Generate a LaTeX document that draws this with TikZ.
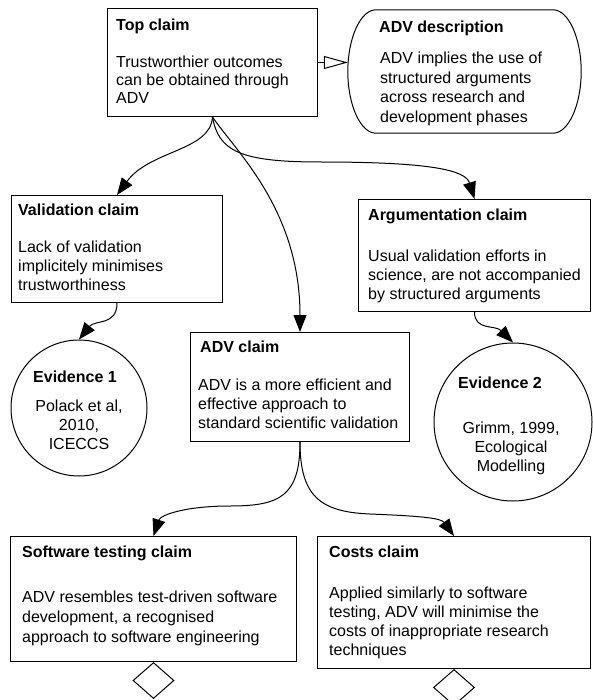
\documentclass[tikz,border=0pt]{standalone}
\usepackage{fontspec}
\setmainfont{Liberation Sans}
\usetikzlibrary{shapes.geometric,arrows.meta}

\begin{document}
\begin{tikzpicture}[
    x=1pt, y=-1pt,
    claim/.style={draw, rectangle, line width=1pt, anchor=north west, inner sep=0pt},
    evidence/.style={draw, circle, line width=1pt, inner sep=0pt},
    context/.style={rectangle, inner sep=0pt},
    undev/.style={draw, diamond, line width=1pt, inner sep=0pt, minimum width=41pt, minimum height=36pt, anchor=north},
    head/.style={anchor=north west, inner sep=0pt, font=\fontsize{16}{19}\selectfont\bfseries},
    body/.style={anchor=north west, inner sep=0pt, align=left, font=\fontsize{16}{19}\selectfont},
    link/.style={line width=1pt, -{Triangle[length=17pt, width=13pt]}},
    incontext/.style={line width=1pt, -{Triangle[open, length=24pt, width=13pt]}}
]

    \fill[white] (0,0) rectangle (592,700);
    \useasboundingbox (0,0) rectangle (592,700);

    % Top claim and its context
    \node[claim, minimum width=210pt, minimum height=108pt] (top) at (107,8) {};
    \node[head] (top-h) at (116,19) {Top claim};
    \node[body, font=\fontsize{16}{18}\selectfont] (top-b) at (116,56) {Trustworthier outcomes\\can be obtained through\\ADV};

    \node[context, minimum width=233pt, minimum height=123pt] (desc) at (464.5,71.5) {};
    \draw[line width=1pt] ([xshift=28pt]desc.north west) -- ([xshift=-28pt]desc.north east)
        .. controls +(15,0) and +(0,-34) .. (desc.east)
        .. controls +(0,34) and +(15,0) .. ([xshift=-28pt]desc.south east)
        -- ([xshift=28pt]desc.south west)
        .. controls +(-15,0) and +(0,34) .. (desc.west)
        .. controls +(0,-34) and +(-15,0) .. cycle;
    \node[head] (desc-h) at (379,21) {ADV description};
    \node[body, font=\fontsize{16}{19.5}\selectfont] (desc-b) at (380,52) {ADV implies the use of\\structured arguments\\across research and\\development phases};

    % Second level
    \node[claim, minimum width=211pt, minimum height=107pt] (val) at (11,195) {};
    \node[head] (val-h) at (18,204) {Validation claim};
    \node[body] (val-b) at (18,241) {Lack of validation\\implicitely minimises\\trustworthiness};

    \node[claim, minimum width=232pt, minimum height=112pt] (arg) at (358,199) {};
    \node[head] (arg-h) at (368,209) {Argumentation claim};
    \node[body] (arg-b) at (368,250) {Usual validation efforts in\\science, are not accompanied\\by structured arguments};

    \node[claim, minimum width=219pt, minimum height=109pt] (adv) at (190,332) {};
    \node[head] (adv-h) at (200,341) {ADV claim};
    \node[body] (adv-b) at (198,379) {ADV is a more efficient and\\effective approach to\\standard scientific validation};

    % Evidence
    \node[evidence, minimum size=136pt] (ev1) at (79,408) {};
    \node[head, anchor=north] (ev1-h) at (75,371) {Evidence 1};
    \node[body, anchor=north, align=center] (ev1-b) at (79,400) {Polack et al,\\2010,\\ICECCS};

    \node[evidence, minimum size=158pt] (ev2) at (513,422) {};
    \node[head, anchor=north] (ev2-h) at (500,377) {Evidence 2};
    \node[body, anchor=north, align=center] (ev2-b) at (511,422) {Grimm, 1999,\\Ecological\\Modelling};

    % Bottom level
    \node[claim, minimum width=286pt, minimum height=125pt] (soft) at (10,536) {};
    \node[head] (soft-h) at (22,546) {Software testing claim};
    \node[body, font=\fontsize{16}{20}\selectfont] (soft-b) at (22,591) {ADV resembles test-driven software\\development, a recognised\\approach to software engineering};

    \node[claim, minimum width=273pt, minimum height=132pt] (cost) at (317,536) {};
    \node[head] (cost-h) at (329,546) {Costs claim};
    \node[body] (cost-b) at (329,587) {Applied similarly to software\\testing, ADV will minimise the\\costs of inappropriate research\\techniques};

    \node[undev] (und1) at (soft.south) {};
    \node[undev] (und2) at (cost.south) {};

    % Connections
    \draw[incontext] (top.east) -- (top.east -| desc.west);

    \draw[link] (top.south) .. controls +(-2,34) and +(33,-45) .. (val.north);
    \draw[link] (top.south) .. controls +(23,34) and +(0,-122) .. (adv.north);
    \draw[link] (top.south) .. controls +(6,34) and (240,162) .. (320,162)
        .. controls (430,162) and +(-9,-29) .. (arg.north);

    \draw[link] (val.south) .. controls +(0,23) and +(16,-20) .. (ev1.north);
    \draw[link] (arg.south) .. controls +(0,19) and +(-18,-18) .. (ev2.north);

    \draw[link] (adv.south) .. controls +(0,54) and (280,506) .. (230,506)
        .. controls (185,506) and +(7,-21) .. (soft.north);
    \draw[link] (adv.south) .. controls +(0,54) and (320,512) .. (370,514)
        .. controls (420,516) and +(-13,-18) .. (cost.north);

\end{tikzpicture}
\end{document}
